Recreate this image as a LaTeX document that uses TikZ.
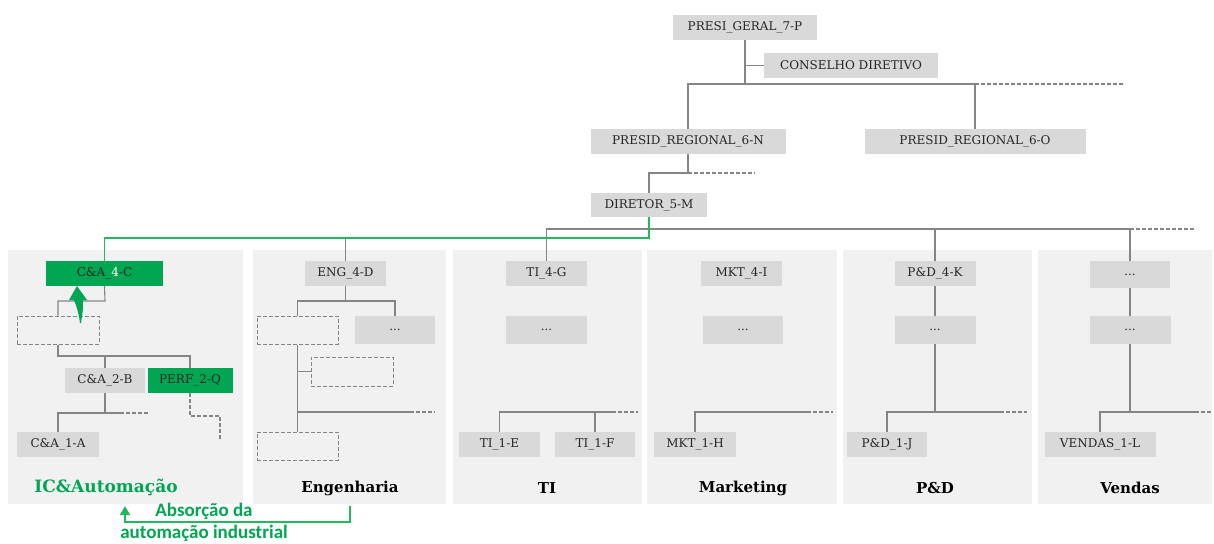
\documentclass[tikz,border=0pt]{standalone}
\usepackage{fontspec}
\setmainfont{DejaVu Serif}
\newfontfamily\notefont{Carlito}
\usetikzlibrary{arrows.meta}

\definecolor{boxgray}{HTML}{D9D9D9}
\definecolor{panelgray}{HTML}{F1F1F1}
\definecolor{linegray}{HTML}{858585}
\definecolor{ink}{HTML}{262626}
\definecolor{accent}{HTML}{00A651}
\definecolor{accentline}{HTML}{22B860}

\tikzset{
  unit/.style={fill=boxgray, draw=none, inner sep=0pt, minimum height=25pt,
    text=ink, font=\fontsize{12}{14}\selectfont},
  unitgreen/.style={unit, fill=accent},
  vacant/.style={draw=linegray, dashed, dash pattern=on 4pt off 2pt,
    line width=1pt, inner sep=0pt, minimum height=28pt},
  link/.style={draw=linegray, line width=1.1pt},
  linkopen/.style={link, dash pattern=on 4pt off 2pt},
  greenlink/.style={draw=accentline, line width=1.8pt},
  panel/.style={fill=panelgray, draw=none},
  areatitle/.style={font=\bfseries\fontsize{15}{17}\selectfont, text=black},
  note/.style={text=accent, font=\notefont\bfseries\fontsize{19}{21}\selectfont},
}

\begin{document}
\begin{tikzpicture}[x=1pt, y=-1pt]
\useasboundingbox (0,0) rectangle (1214,543);

% department panels
\fill[panel] (8,250) rectangle (243,504);
\fill[panel] (253,250) rectangle (446,504);
\fill[panel] (453,250) rectangle (642,504);
\fill[panel] (647,250) rectangle (837,504);
\fill[panel] (843,250) rectangle (1032,504);
\fill[panel] (1038,250) rectangle (1212,504);

% top management
\node[unit, minimum width=144pt] (pg) at (745,27.5) {PRESI\_GERAL\_7-P};
\node[unit, minimum width=174pt] (cd) at (851,65.5) {CONSELHO DIRETIVO};
\node[unit, minimum width=195pt] (prn) at (688,141.5) {PRESID\_REGIONAL\_6-N};
\node[unit, minimum width=221pt] (pro) at (975,141.5) {PRESID\_REGIONAL\_6-O};
\node[unit, minimum width=116pt, minimum height=24pt] (dir) at (649,205) {DIRETOR\_5-M};

\coordinate (j1) at (745,84);
\coordinate (j1e) at (1125,84);
\draw[link] (pg.south) -- (j1);
\draw[link] (pg.south |- cd.west) -- (cd.west);
\draw[link] (prn.north) |- (j1) -| (pro.north);
\draw[linkopen] (pro.north |- j1) -- (j1e);

\coordinate (j2) at (688,173);
\coordinate (j2e) at (755,173);
\draw[link] (prn.south) -- (j2) -| (dir.north);
\draw[linkopen] (j2) -- (j2e);

% IC&Automacao
\node[unitgreen, minimum width=117pt] (ca4) at (104.5,273.5) {C\&A\_\textcolor{white}{4}-C};
\node[vacant, minimum width=82pt] (dA) at (58,330) {};
\node[unit, minimum width=80pt] (ca2) at (105,380.5) {C\&A\_2-B};
\node[unitgreen, minimum width=85pt] (perf) at (190,380.5) {PERF\_2-Q};
\node[unit, minimum width=82pt] (ca1) at (58,444.5) {C\&A\_1-A};
\node[areatitle, text=accent, font=\bfseries\fontsize{17}{19}\selectfont] (t1) at (106,487) {IC\&Automação};

\coordinate (a1) at (105,301);
\draw[link] (ca4.south) -- (a1) -| (dA.north);
\coordinate (a2) at (105,356);
\draw[link] (dA.south) |- (a2) -| (perf.north);
\draw[link] (a2) -- (ca2.north);
\coordinate (a3) at (105,413);
\coordinate (a3r) at (120,413);
\coordinate (a3e) at (148,413);
\draw[link] (ca2.south) -- (a3) -| (ca1.north);
\draw[link] (a3) -- (a3r);
\draw[linkopen] (a3r) -- (a3e);
\coordinate (a4) at (220,416);
\coordinate (a4e) at (220,439);
\draw[linkopen] (perf.south) |- (a4) -- (a4e);

% promotion arrow
\fill[accent] (77,286) -- (87,300) -- (83,300) .. controls (83,310) .. (81,323)
  -- (80,323) .. controls (78.5,311) and (75.5,304) .. (74,300) -- (69,300) -- cycle;

% Engenharia
\node[unit, minimum width=81pt] (eng) at (345.5,273.5) {ENG\_4-D};
\node[vacant, minimum width=81pt] (eA) at (297.5,330) {};
\node[unit, minimum width=80pt, minimum height=28pt] (eD) at (395,330) {...};
\node[vacant, minimum width=82pt, minimum height=29pt] (eB) at (352,371.5) {};
\node[vacant, minimum width=81pt] (eC) at (297.5,446) {};
\node[areatitle] (t2) at (350,488) {Engenharia};

\coordinate (b1) at (345.5,301);
\draw[link] (eng.south) -- (b1);
\draw[link] (eA.north) |- (b1) -| (eD.north);
\draw[link] (eA.south) -- (eC.north);
\draw[link] (eA.south |- eB.west) -- (eB.west);
\coordinate (b2) at (297.5,412);
\coordinate (b2r) at (410,412);
\coordinate (b2e) at (435,412);
\draw[link] (b2) -- (b2r);
\draw[linkopen] (b2r) -- (b2e);

% TI
\node[unit, minimum width=81pt] (ti4) at (546.5,273.5) {TI\_4-G};
\node[unit, minimum width=81pt, minimum height=28pt] (tiD) at (546.5,330) {...};
\node[unit, minimum width=81pt] (ti1e) at (499.5,444.5) {TI\_1-E};
\node[unit, minimum width=80pt] (ti1f) at (595,444.5) {TI\_1-F};
\node[areatitle] (t3) at (547,488) {TI};

\coordinate (c1) at (595,412);
\coordinate (c1r) at (612,412);
\coordinate (c1e) at (638,412);
\draw[link] (ti1e.north) |- (c1) -- (ti1f.north);
\draw[link] (c1) -- (c1r);
\draw[linkopen] (c1r) -- (c1e);

% Marketing
\node[unit, minimum width=81pt] (mkt4) at (741.5,273.5) {MKT\_4-I};
\node[unit, minimum width=80pt, minimum height=28pt] (mktD) at (743,330) {...};
\node[unit, minimum width=82pt] (mkt1) at (695,444.5) {MKT\_1-H};
\node[areatitle] (t4) at (743,488) {Marketing};

\coordinate (d1) at (807,412);
\coordinate (d1e) at (833,412);
\draw[link] (mkt1.north) |- (d1);
\draw[linkopen] (d1) -- (d1e);

% P&D
\node[unit, minimum width=81pt] (pd4) at (935,273.5) {P\&D\_4-K};
\node[unit, minimum width=81pt, minimum height=28pt] (pdD) at (935,330) {...};
\node[unit, minimum width=80pt] (pd1) at (887,444.5) {P\&D\_1-J};
\node[areatitle] (t5) at (935,488) {P\&D};

\coordinate (e1) at (935,412);
\coordinate (e1r) at (1000,412);
\coordinate (e1e) at (1027,412);
\draw[link] (pd4.south) -- (pdD.north);
\draw[link] (pdD.south) -- (e1);
\draw[link] (pd1.north) |- (e1r);
\draw[linkopen] (e1r) -- (e1e);

% Vendas
\node[unit, minimum width=80pt, minimum height=27pt] (vd1) at (1130,274.5) {...};
\node[unit, minimum width=81pt, minimum height=28pt] (vd2) at (1130,330) {...};
\node[unit, minimum width=111pt] (vdl) at (1100,444.5) {VENDAS\_1-L};
\node[areatitle] (t6) at (1130,488) {Vendas};

\coordinate (f1) at (1130,412);
\coordinate (f1r) at (1195,412);
\coordinate (f1e) at (1212,412);
\draw[link] (vd1.south) -- (vd2.north);
\draw[link] (vd2.south) -- (f1);
\draw[link] (vdl.north) |- (f1r);
\draw[linkopen] (f1r) -- (f1e);

% director's bus to the departments
\coordinate (busL) at (546.5,229);
\coordinate (busR) at (1130,229);
\coordinate (busE) at (1196,229);
\draw[link] (ti4.north) -- (busL) -- (busR) -- (vd1.north);
\draw[link] (pd4.north) -- (pd4.north |- busL);
\draw[linkopen] (busR) -- (busE);

\coordinate (gy) at (0,238);
\draw[link] (eng.north) -- (eng.north |- gy);
\draw[greenlink] (dir.south) |- (ca4.north |- gy) -- (ca4.north);

% transfer of industrial automation
\coordinate (g1) at (350,506);
\coordinate (g2) at (350,522);
\coordinate (g3) at (125,506);
\draw[greenlink, -{Triangle[width=10pt,length=9pt]}] (g1) -- (g2) -| (g3);
\node[note] (n1) at (204,511) {Absorção da};
\node[note] (n2) at (204,533) {automação industrial};
\end{tikzpicture}
\end{document}
